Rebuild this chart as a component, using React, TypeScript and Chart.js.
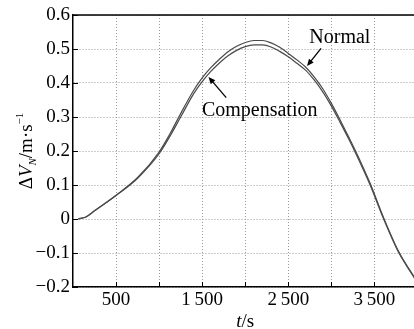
import { useEffect, useRef } from 'react';
import { Chart, registerables } from 'chart.js';

Chart.register(...registerables);

// ---- data ----
const timeSeconds = [60, 150, 250, 500, 750, 1000, 1125, 1250, 1400, 1500, 1600, 1700, 1800, 1900, 2000, 2100, 2200, 2300, 2400, 2500, 2600, 2700, 2800, 2900, 3000, 3100, 3200, 3300, 3450, 3600, 3780, 3965];
const normalValues = [0, 0.006, 0.024, 0.07, 0.122, 0.197, 0.25, 0.31, 0.378, 0.415, 0.445, 0.47, 0.492, 0.508, 0.519, 0.525, 0.525, 0.518, 0.505, 0.487, 0.468, 0.447, 0.418, 0.383, 0.34, 0.292, 0.242, 0.19, 0.105, 0.008, -0.095, -0.172];
const compensationValues = [0, 0.006, 0.024, 0.069, 0.12, 0.192, 0.243, 0.3, 0.368, 0.404, 0.434, 0.459, 0.48, 0.496, 0.507, 0.512, 0.512, 0.506, 0.493, 0.477, 0.458, 0.438, 0.409, 0.374, 0.332, 0.285, 0.236, 0.184, 0.1, 0.004, -0.098, -0.174];

const xTickValues = [500, 1000, 1500, 2000, 2500, 3000, 3500];
const xLabeledTicks = [500, 1500, 2500, 3500];
const yTickValues = [-0.2, -0.1, 0, 0.1, 0.2, 0.3, 0.4, 0.5, 0.6];

const annotationLabels = ['Normal', 'Compensation'];
const annotationTextAt = [[2744, 0.532], [1497, 0.318]];
const annotationArrowFrom = [[2880, 0.502], [1779, 0.357]];
const annotationArrowTo = [[2717, 0.45], [1573, 0.418]];

const FONT = 'Liberation Serif, "Times New Roman", serif';

function fmtX(v: number) {
  const s = String(v);
  if (s.length > 3) return s.slice(0, s.length - 3) + '\u2009' + s.slice(s.length - 3);
  return s;
}
function fmtY(v: number) {
  if (Math.abs(v) < 1e-9) return '0';
  return (v < 0 ? '\u2212' : '') + Math.abs(v).toFixed(1);
}

const decorPlugin = {
  id: 'decor',
  afterDraw(chart: any) {
    const { ctx, chartArea, scales } = chart;
    const xs = scales.x;
    const ys = scales.y;
    ctx.save();
    // top frame
    ctx.strokeStyle = '#000';
    ctx.lineWidth = 1.5;
    ctx.beginPath();
    ctx.moveTo(chartArea.left, chartArea.top);
    ctx.lineTo(chartArea.right, chartArea.top);
    ctx.stroke();
    // inward tick marks
    ctx.lineWidth = 1;
    ctx.beginPath();
    xTickValues.forEach((v) => {
      const px = Math.round(xs.getPixelForValue(v)) + 0.5;
      ctx.moveTo(px, chartArea.bottom);
      ctx.lineTo(px, chartArea.bottom - 5);
    });
    yTickValues.forEach((v) => {
      const py = Math.round(ys.getPixelForValue(v)) + 0.5;
      ctx.moveTo(chartArea.left, py);
      ctx.lineTo(chartArea.left + 5, py);
    });
    ctx.stroke();

    // annotations
    ctx.fillStyle = '#000';
    ctx.font = `20px ${FONT}`;
    ctx.textAlign = 'left';
    ctx.textBaseline = 'middle';
    annotationLabels.forEach((label, i) => {
      const tx = xs.getPixelForValue(annotationTextAt[i][0]);
      const ty = ys.getPixelForValue(annotationTextAt[i][1]);
      ctx.fillText(label, tx, ty);
      const x1 = xs.getPixelForValue(annotationArrowFrom[i][0]);
      const y1 = ys.getPixelForValue(annotationArrowFrom[i][1]);
      const x2 = xs.getPixelForValue(annotationArrowTo[i][0]);
      const y2 = ys.getPixelForValue(annotationArrowTo[i][1]);
      const ang = Math.atan2(y2 - y1, x2 - x1);
      const hl = 7, hw = 3;
      ctx.lineWidth = 1.3;
      ctx.beginPath();
      ctx.moveTo(x1, y1);
      ctx.lineTo(x2 - Math.cos(ang) * hl * 0.8, y2 - Math.sin(ang) * hl * 0.8);
      ctx.stroke();
      ctx.beginPath();
      ctx.moveTo(x2, y2);
      ctx.lineTo(x2 - Math.cos(ang) * hl - Math.sin(ang) * hw, y2 - Math.sin(ang) * hl + Math.cos(ang) * hw);
      ctx.lineTo(x2 - Math.cos(ang) * hl + Math.sin(ang) * hw, y2 - Math.sin(ang) * hl - Math.cos(ang) * hw);
      ctx.closePath();
      ctx.fill();
    });

    // x title: t/s
    ctx.textBaseline = 'alphabetic';
    const cx = (chartArea.left + chartArea.right) / 2;
    ctx.font = `italic 19px ${FONT}`;
    const wT = ctx.measureText('t').width;
    ctx.font = `19px ${FONT}`;
    const wS = ctx.measureText('/s').width;
    const sx = cx - (wT + wS) / 2;
    ctx.font = `italic 19px ${FONT}`;
    ctx.fillText('t', sx, 327);
    ctx.font = `19px ${FONT}`;
    ctx.fillText('/s', sx + wT, 327);

    // y title: ΔV_N/m·s^-1
    const segs = [
      { t: '\u0394', f: `19px ${FONT}`, dy: 0 },
      { t: 'V', f: `italic 19px ${FONT}`, dy: 0 },
      { t: 'N', f: `italic 11px ${FONT}`, dy: 4 },
      { t: '/m\u00B7s', f: `19px ${FONT}`, dy: 0 },
      { t: '\u22121', f: `11px ${FONT}`, dy: -9 },
    ];
    let total = 0;
    const widths = segs.map((s) => {
      ctx.font = s.f;
      const w = ctx.measureText(s.t).width;
      total += w;
      return w;
    });
    ctx.translate(32, (chartArea.top + chartArea.bottom) / 2);
    ctx.rotate(-Math.PI / 2);
    let px = -total / 2;
    segs.forEach((s, i) => {
      ctx.font = s.f;
      ctx.fillText(s.t, px, s.dy);
      px += widths[i];
    });
    ctx.restore();
  },
};

export default function App() {
  const ref = useRef<HTMLCanvasElement>(null);
  useEffect(() => {
    const canvas = ref.current;
    if (!canvas) return;
    const toPoints = (vals: number[]) => timeSeconds.map((t, i) => ({ x: t, y: vals[i] }));
    const chart = new Chart(canvas, {
      type: 'line',
      data: {
        datasets: [
          {
            label: 'Normal',
            data: toPoints(normalValues),
            borderColor: '#4a4a4a',
            borderWidth: 1.2,
            pointRadius: 0,
            cubicInterpolationMode: 'monotone',
            fill: false,
          },
          {
            label: 'Compensation',
            data: toPoints(compensationValues),
            borderColor: '#4a4a4a',
            borderWidth: 1.2,
            pointRadius: 0,
            cubicInterpolationMode: 'monotone',
            fill: false,
          },
        ],
      },
      options: {
        responsive: false,
        animation: false,
        devicePixelRatio: 1,
        layout: { padding: { top: 15, right: 2.5, left: 0, bottom: 0 } },
        plugins: { legend: { display: false }, tooltip: { enabled: false } },
        scales: {
          x: {
            type: 'linear',
            min: 0,
            max: 4000,
            afterBuildTicks: (s: any) => {
              s.ticks = xTickValues.map((v) => ({ value: v }));
            },
            afterFit: (s: any) => {
              s.height = 42;
            },
            grid: { color: '#9a9a9a', lineWidth: 1, drawTicks: false },
            border: { display: true, color: '#000', width: 1.5, dash: [1, 2] },
            ticks: {
              autoSkip: false,
              maxRotation: 0,
              padding: 2,
              color: '#000',
              font: { family: FONT, size: 19 },
              callback: (v: any) => (xLabeledTicks.includes(Number(v)) ? fmtX(Number(v)) : ''),
            },
          },
          y: {
            type: 'linear',
            min: -0.2,
            max: 0.6,
            afterBuildTicks: (s: any) => {
              s.ticks = yTickValues.map((v) => ({ value: v }));
            },
            afterFit: (s: any) => {
              s.width = 73;
            },
            grid: { color: '#9a9a9a', lineWidth: 1, drawTicks: false },
            border: { display: true, color: '#000', width: 1.5, dash: [1, 2] },
            ticks: {
              autoSkip: false,
              padding: 3,
              color: '#000',
              font: { family: FONT, size: 19 },
              callback: (v: any) => fmtY(Number(v)),
            },
          },
        },
      },
      plugins: [decorPlugin],
    } as any);
    return () => chart.destroy();
  }, []);
  return (
    <div style={{ position: 'fixed', left: 0, top: 0, width: 414, height: 329, overflow: 'hidden', background: '#fff' }}>
      <canvas ref={ref} width={420} height={329} style={{ display: 'block', width: 420, height: 329 }} />
    </div>
  );
}
